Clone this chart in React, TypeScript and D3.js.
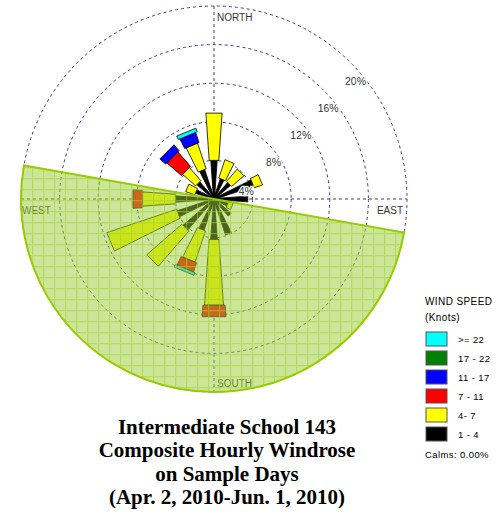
import * as d3 from 'd3';

// wind rose values, percent of hours, by direction and speed class
const directions = ['N', 'NNE', 'NE', 'ENE', 'E', 'ESE', 'SE', 'SSE', 'S', 'SSW', 'SW', 'WSW', 'W', 'WNW', 'NW', 'NNW'];
const speed1to4 = [4.0, 2.2, 2.2, 4.3, 3.5, 1.5, 2.3, 3.9, 4.2, 3.4, 4.2, 4.0, 4.0, 2.0, 2.3, 3.2];
const speed4to7 = [4.9, 2.0, 1.7, 0.9, 0, 0.5, 0, 0, 6.8, 3.4, 4.8, 7.6, 3.4, 1.0, 1.8, 2.8];
const speed7to11 = [0, 0, 0, 0, 0, 0, 0, 0, 1.2, 1.0, 0, 0, 1.0, 0, 2.0, 0];
const speed11to17 = [0, 0, 0, 0, 0, 0, 0, 0, 0, 0, 0, 0, 0, 0, 0.8, 1.1];
const speed17to22 = [0, 0, 0, 0, 0, 0, 0, 0, 0, 0, 0, 0, 0, 0, 0, 0];
const speed22up = [0, 0, 0, 0, 0, 0, 0, 0, 0, 0.3, 0, 0, 0, 0, 0, 0.4];

const speedSeries = [speed1to4, speed4to7, speed7to11, speed11to17, speed17to22, speed22up];
const classColors = ['#000000', '#ffff00', '#ff0000', '#0000ff', '#008000', '#00ffff'];
const legendLabels = ['>= 22', '17 - 22', '11 - 17', '7 - 11', '4- 7', '1 - 4'];
const ringTicks = [4, 8, 12, 16, 20];
const titleLines = ['Intermediate School 143', 'Composite Hourly Windrose', 'on Sample Days', '(Apr. 2, 2010-Jun. 1, 2010)'];
const calmsText = 'Calms: 0.00%';
const sectorFrom = 100;
const sectorTo = 280;

const cx = 214;
const cy = 199;
const r = d3.scaleLinear().domain([0, 20]).range([0, 193]);
const angle = d3.scaleLinear().domain([0, directions.length]).range([0, 360]);
const rad = (deg: number) => (deg * Math.PI) / 180;

const sans = '"Liberation Sans", Arial, sans-serif';
const ringColor = '#3a3a96';

// tapered bar segment between two radii, faster classes drawn a bit wider
function segment(bearing: number, v0: number, v1: number, cls: number) {
  const t = rad(bearing);
  const ux = Math.sin(t), uy = -Math.cos(t);
  const px = Math.cos(t), py = Math.sin(t);
  const half = (rr: number) => 0.5 + cls * 1.6 + rr * 0.07;
  const r0 = r(v0), r1 = r(v1);
  const pts: [number, number][] = [
    [cx + r0 * ux - half(r0) * px, cy + r0 * uy - half(r0) * py],
    [cx + r1 * ux - half(r1) * px, cy + r1 * uy - half(r1) * py],
    [cx + r1 * ux + half(r1) * px, cy + r1 * uy + half(r1) * py],
    [cx + r0 * ux + half(r0) * px, cy + r0 * uy + half(r0) * py],
  ];
  return d3.line()(pts) + 'Z';
}

export default function App() {
  const outer = r(20);
  const bars: { d: string; fill: string; key: string }[] = [];
  directions.forEach((dir, i) => {
    let acc = 0;
    let cls = 0;
    speedSeries.forEach((series, k) => {
      const v = series[i];
      if (v > 0) {
        bars.push({ d: segment(angle(i), acc, acc + v, cls), fill: classColors[k], key: dir + k });
        acc += v;
        cls += 1;
      }
    });
  });

  const sector = d3.arc()({
    innerRadius: 0,
    outerRadius: outer,
    startAngle: rad(sectorFrom),
    endAngle: rad(sectorTo),
  }) as string;

  return (
    <svg width={500} height={515} style={{ position: 'absolute', left: 0, top: 0, background: '#fff' }}>
      <defs>
        <pattern id="grid" width={11} height={11} patternUnits="userSpaceOnUse" x={cx} y={cy}>
          <path d="M0,0.5H11M0.5,0V11" stroke="#9fd23a" strokeWidth={1.4} fill="none" />
        </pattern>
      </defs>

      {ringTicks.map((t) => (
        <circle key={t} cx={cx} cy={cy} r={r(t)} fill="none" stroke={ringColor} strokeWidth={1} strokeDasharray="3 3" />
      ))}
      <line x1={cx} y1={cy - outer} x2={cx} y2={cy + outer} stroke={ringColor} strokeDasharray="3 3" />
      <line x1={cx - outer} y1={cy} x2={cx + outer} y2={cy} stroke={ringColor} strokeDasharray="3 3" />

      <g fontFamily={sans} fontSize={10} fill="#333">
        <text x={cx + 3} y={cy - outer + 15}>NORTH</text>
        <text x={cx + 3} y={cy + outer - 5}>SOUTH</text>
        <text x={cx - outer + 1} y={cy + 15}>WEST</text>
        <text x={cx + outer - 4} y={cy + 15} textAnchor="end">EAST</text>
      </g>

      {bars.map((b) => (
        <path key={b.key} d={b.d} fill={b.fill} stroke="#000" strokeWidth={0.8} />
      ))}

      <g transform={`translate(${cx},${cy})`}>
        <path d={sector} fill="#99cc33" fillOpacity={0.5} />
        <path d={sector} fill="url(#grid)" fillOpacity={0.55} />
        <path d={sector} fill="none" stroke="#99cc00" strokeWidth={2} />
      </g>

      <g fontFamily={sans} fontSize={10.5} fill="#333" textAnchor="middle" stroke="#fff" strokeWidth={2.5} paintOrder="stroke">
        {ringTicks.map((t) => (
          <text key={t} x={cx + r(t) * Math.SQRT1_2 + 5} y={cy - r(t) * Math.SQRT1_2 + 22 + (t === 4 ? 1 : 0)}>
            {t}%
          </text>
        ))}
      </g>

      <g fontFamily={sans} fontSize={10} fill="#000" letterSpacing={0.4}>
        <text x={425} y={305}>WIND SPEED</text>
        <text x={425} y={321}>(Knots)</text>
        {legendLabels.map((lab, i) => (
          <g key={lab}>
            <rect
              x={426}
              y={332 + i * 19}
              width={21}
              height={14}
              fill={classColors[classColors.length - 1 - i]}
              stroke="#555"
              strokeWidth={1}
            />
            <text x={458} y={343 + i * 19} fontSize={9.5}>
              {lab}
            </text>
          </g>
        ))}
        <text x={425} y={458} fontSize={9.5}>
          {calmsText}
        </text>
      </g>

      <g fontFamily='"Liberation Serif", "Times New Roman", serif' fontWeight="bold" fontSize={21} textAnchor="middle" fill="#000">
        {titleLines.map((line, i) => (
          <text key={line} x={227} y={434 + i * 23.3}>
            {line}
          </text>
        ))}
      </g>
    </svg>
  );
}
